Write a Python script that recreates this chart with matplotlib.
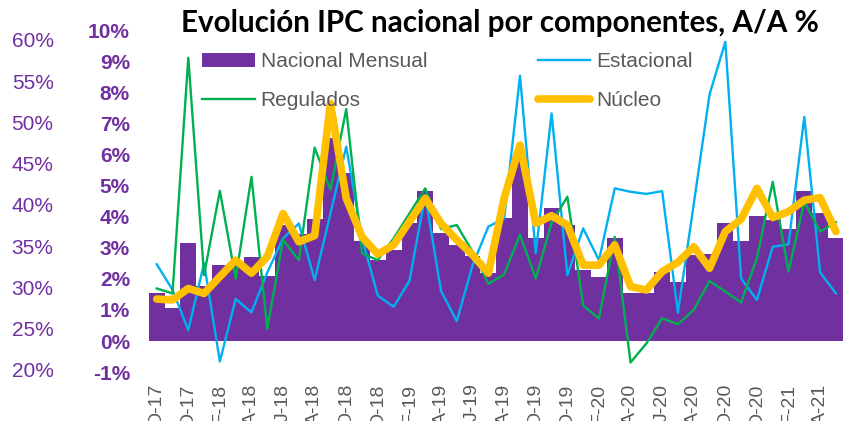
import matplotlib.pyplot as plt
from matplotlib.ticker import FuncFormatter

# etiquetas del eje X (una cada dos meses, desde oct-2017)
etiquetas_x = ["O-17", "D-17", "F-18", "A-18", "J-18", "A-18", "O-18", "D-18",
               "F-19", "A-19", "J-19", "A-19", "O-19", "D-19", "F-20", "A-20",
               "J-20", "A-20", "O-20", "D-20", "F-21", "A-21"]

# valores (% a/a), oct-2017 a may-2021
nacional = [1.53, 1.05, 3.14, 1.77, 2.44, 2.44, 2.71, 2.10, 3.73, 3.43, 3.91,
            6.54, 5.41, 3.22, 2.60, 2.93, 3.78, 4.82, 3.46, 3.09, 2.74, 2.20,
            3.95, 5.93, 3.31, 4.28, 3.73, 2.28, 2.05, 3.31, 1.53, 1.53, 2.22,
            1.91, 2.75, 2.80, 3.81, 3.22, 4.02, 3.90, 3.60, 4.81, 4.12, 3.32]
estacional = [2.47, 1.65, 0.35, 2.50, -0.66, 1.35, 0.92, 2.20, 3.30, 3.78,
              1.96, 4.10, 6.25, 3.30, 1.46, 1.10, 1.93, 4.69, 1.61, 0.64,
              2.44, 3.68, 3.94, 8.53, 2.82, 7.32, 2.12, 3.62, 2.60, 4.91,
              4.80, 4.73, 4.82, 0.91, 4.40, 7.93, 9.62, 2.01, 1.32, 3.03,
              3.11, 7.21, 2.21, 1.53]
regulados = [1.69, 1.53, 9.11, 2.12, 4.83, 2.01, 5.28, 0.39, 3.25, 2.60, 6.22,
             4.86, 7.46, 2.82, 2.60, 3.30, 4.10, 4.91, 3.60, 3.73, 2.87, 1.84,
             2.14, 3.42, 2.01, 3.80, 4.64, 1.14, 0.72, 3.35, -0.69, -0.08,
             0.73, 0.54, 1.00, 1.93, 1.59, 1.24, 2.66, 5.12, 2.23, 4.48, 3.52,
             3.82]
nucleo = [1.35, 1.32, 1.69, 1.53, 2.07, 2.60, 2.18, 2.71, 4.10, 3.19, 3.39,
          7.64, 4.59, 3.35, 2.79, 3.09, 3.84, 4.59, 3.78, 3.25, 2.77, 2.18,
          4.60, 6.30, 3.78, 4.03, 3.73, 2.44, 2.44, 3.09, 1.75, 1.64, 2.23,
          2.53, 3.03, 2.34, 3.52, 3.92, 4.91, 3.97, 4.16, 4.53, 4.61, 3.52]

# eje externo (20% - 60%)
ticks_externos = [20, 25, 30, 35, 40, 45, 50, 55, 60]

morado = "#7030A0"
gris = "#595959"
fuente = "Liberation Sans"

fig = plt.figure(figsize=(8.43, 4.21), dpi=100)
ax = fig.add_axes([148 / 843, 43 / 421, 695 / 843, 356 / 421])

meses = list(range(len(nacional)))

# barras del IPC nacional y lineas por componente
barras = ax.bar(meses, nacional, width=1.0, color=morado, zorder=1)
l_est, = ax.plot(meses, estacional, color="#00B0F0", linewidth=1.7, zorder=2)
l_reg, = ax.plot(meses, regulados, color="#00B050", linewidth=1.7, zorder=3)
l_nuc, = ax.plot(meses, nucleo, color="#FFC000", linewidth=5.5,
                 solid_joinstyle="round", solid_capstyle="round", zorder=4)

ax.set_xlim(-0.55, len(nacional) - 0.55)
ax.set_ylim(-1.19, 10.26)
ax.set_yticks(range(-1, 11))
ax.yaxis.set_major_formatter(FuncFormatter(lambda v, p: f"{int(v)}%"))
ax.tick_params(axis="y", length=0, pad=13, labelsize=15, labelcolor=morado)
for t in ax.get_yticklabels():
    t.set_fontweight("bold")
    t.set_family(fuente)

ax.set_xticks(meses[::2])
ax.set_xticklabels(etiquetas_x, rotation=90, fontsize=14, color=gris, family=fuente)
ax.tick_params(axis="x", length=0, pad=4)

for lado in ax.spines.values():
    lado.set_visible(False)

# segundo eje a la izquierda con la escala 20% - 60%
ax2 = ax.twinx()
ax2.yaxis.tick_left()
ax2.set_ylim(19.03, 62.18)
ax2.set_yticks(ticks_externos)
ax2.yaxis.set_major_formatter(FuncFormatter(lambda v, p: f"{int(v)}%"))
ax2.tick_params(axis="y", length=0, pad=68, labelsize=15, labelcolor=morado)
for t in ax2.get_yticklabels():
    t.set_family(fuente)
for lado in ax2.spines.values():
    lado.set_visible(False)

# leyenda en dos columnas (se llena por columnas)
ley = ax2.legend([barras, l_reg, l_est, l_nuc],
                 ["Nacional Mensual", "Regulados", "Estacional", "Núcleo"],
                 ncol=2, loc="upper left", bbox_to_anchor=(192 / 843, 1 - 42 / 421),
                 bbox_transform=fig.transFigure, frameon=False, borderpad=0,
                 handlelength=2.5, handletextpad=0.3, columnspacing=5.3,
                 labelspacing=0.95, prop={"family": fuente, "size": 15})
for t in ley.get_texts():
    t.set_color(gris)

fig.text(500 / 843, 1 - 32 / 421, "Evolución IPC nacional por componentes, A/A %",
         ha="center", va="baseline", fontsize=21.3, fontweight="bold",
         family="Lato", color="black")

fig.savefig("out.png", dpi=100)
plt.close(fig)
